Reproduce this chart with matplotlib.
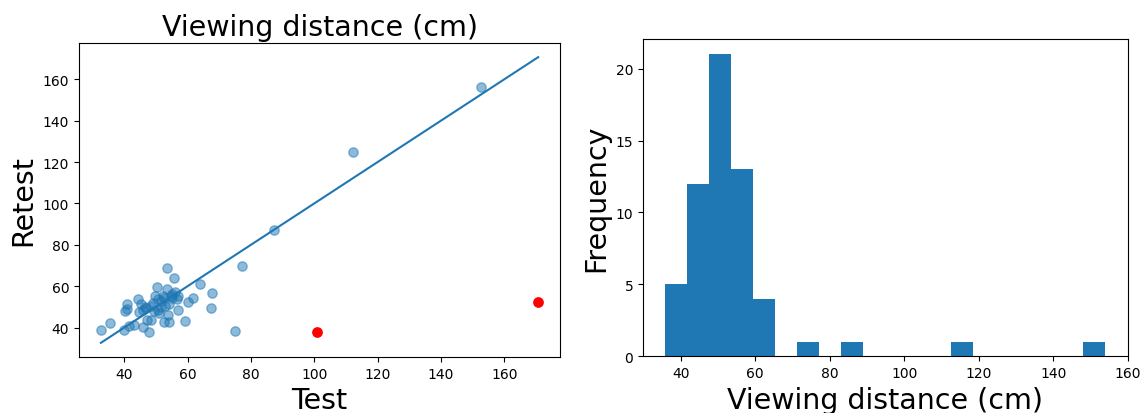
import numpy as np
import matplotlib
matplotlib.use('Agg')
import matplotlib.pyplot as plt

# test / retest viewing distances (cm)
test = [32.6, 35.5, 40.0, 40.2, 40.7, 41.0, 41.6, 43.2, 44.2, 45.3, 45.8, 46.0,
        46.5, 47.1, 47.9, 48.4, 49.0, 49.5, 49.8, 50.2, 50.5, 51.1, 51.6, 52.1,
        52.6, 53.0, 53.4, 53.5, 53.7, 54.0, 54.2, 54.7, 55.2, 55.8, 56.1, 56.5,
        56.8, 59.3, 60.0, 61.8, 64.0, 67.7, 67.4, 74.9, 77.2, 87.3, 112.1, 152.6,
        47.0, 48.5, 51.5, 52.5, 55.0, 50.5, 44.5, 57.0]
retest = [38.7, 42.3, 38.7, 47.8, 51.2, 49.0, 40.7, 41.2, 53.7, 51.2, 48.7, 40.3,
          50.0, 43.7, 37.8, 43.7, 52.0, 47.8, 55.3, 59.5, 54.0, 47.0, 52.8, 55.3,
          42.8, 50.5, 58.7, 68.7, 46.2, 51.2, 42.8, 55.3, 54.5, 64.0, 57.0, 53.7,
          48.7, 43.3, 52.3, 54.5, 61.2, 56.7, 49.5, 38.2, 69.5, 87.3, 124.7, 156.1,
          49.5, 50.5, 50.0, 54.5, 56.0, 48.5, 47.5, 55.0]

# flagged outliers (red)
out_test = [100.8, 170.7]
out_retest = [37.6, 52.4]

# histogram of viewing distance
bin_edges = np.linspace(35.8, 153.8, 21)
counts = [5, 12, 21, 13, 4, 0, 1, 0, 1, 0, 0, 0, 0, 1, 0, 0, 0, 0, 0, 1]

fig = plt.figure(figsize=(11.42, 4.14), dpi=100)
ax1 = fig.add_axes([0.0692, 0.135, 0.4212, 0.759])
ax2 = fig.add_axes([0.563, 0.137, 0.4247, 0.766])

ax1.scatter(test, retest, s=45, alpha=0.5, color='C0')
ax1.scatter(out_test, out_retest, s=45, color='red')
lo = min(test + out_test)
hi = max(test + out_test)
ax1.plot([lo, hi], [lo, hi], color='C0')
ax1.set_title('Viewing distance (cm)', fontsize=20.5)
ax1.set_xlabel('Test', fontsize=20.5)
ax1.set_ylabel('Retest', fontsize=20.5)
ax1.set_xticks([40, 60, 80, 100, 120, 140, 160])
ax1.set_yticks([40, 60, 80, 100, 120, 140, 160])

ax2.hist(bin_edges[:-1], bins=bin_edges, weights=counts, color='C0')
ax2.set_xlabel('Viewing distance (cm)', fontsize=20.5)
ax2.set_ylabel('Frequency', fontsize=20.5)
ax2.set_xticks([40, 60, 80, 100, 120, 140, 160])
ax2.set_yticks([0, 5, 10, 15, 20])

plt.savefig('out.png')
plt.close()
